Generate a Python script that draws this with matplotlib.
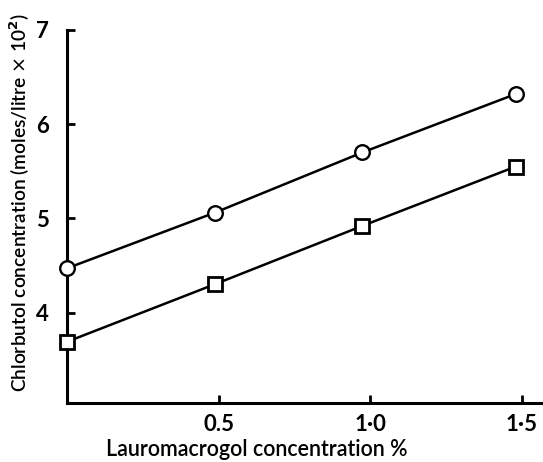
import matplotlib
matplotlib.use("Agg")
import matplotlib.pyplot as plt

# Lauromacrogol concentration (%) and chlorbutol solubility (moles/litre x 10^2)
conc_circle = [0.0, 0.487, 0.974, 1.48]
chlor_circle = [4.47, 5.06, 5.70, 6.32]
conc_square = [0.0, 0.487, 0.974, 1.48]
chlor_square = [3.69, 4.30, 4.92, 5.55]

x_ticks = [0.5, 1.0, 1.5]
x_tick_labels = ["0.5", "1·0", "1·5"]
y_ticks = [4, 5, 6, 7]
y_tick_labels = ["4", "5", "6", "7"]

plt.rcParams["font.family"] = ["Lato", "DejaVu Sans"]

fig = plt.figure(figsize=(5.43, 4.62), dpi=100)
ax = fig.add_axes([67 / 543, 1 - 403 / 462, 476 / 543, 373 / 462])

ax.plot(conc_circle, chlor_circle, color="black", lw=1.8, marker="o",
        ms=10.5, mfc="white", mec="black", mew=1.7, clip_on=False, zorder=3)
ax.plot(conc_square, chlor_square, color="black", lw=1.8, marker="s",
        ms=9.5, mfc="white", mec="black", mew=2.0, clip_on=False, zorder=3)

ax.set_xlim(0, 1.57)
ax.set_ylim(3.04, 7.0)
ax.set_xticks(x_ticks)
ax.set_xticklabels(x_tick_labels)
ax.set_yticks(y_ticks)
ax.set_yticklabels(y_tick_labels)

for side in ("top", "right"):
    ax.spines[side].set_visible(False)
for side in ("left", "bottom"):
    ax.spines[side].set_linewidth(2.2)

ax.tick_params(direction="in", length=6, width=2, labelsize=16, pad=8)
ax.tick_params(axis="y", pad=13)
for lbl in ax.get_xticklabels() + ax.get_yticklabels():
    lbl.set_fontweight("bold")

fig.text(257 / 543, 1 - 450 / 462, "Lauromacrogol concentration %",
         ha="center", va="center", fontsize=15.5, fontweight="semibold")
fig.text(20 / 543, 1 - 202 / 462,
         "Chlorbutol concentration (moles/litre $\\times$ 10$^\\mathbf{2}$)",
         ha="center", va="center", rotation=90, fontsize=13.8,
         fontweight="semibold")

fig.savefig("out.png", dpi=100)
